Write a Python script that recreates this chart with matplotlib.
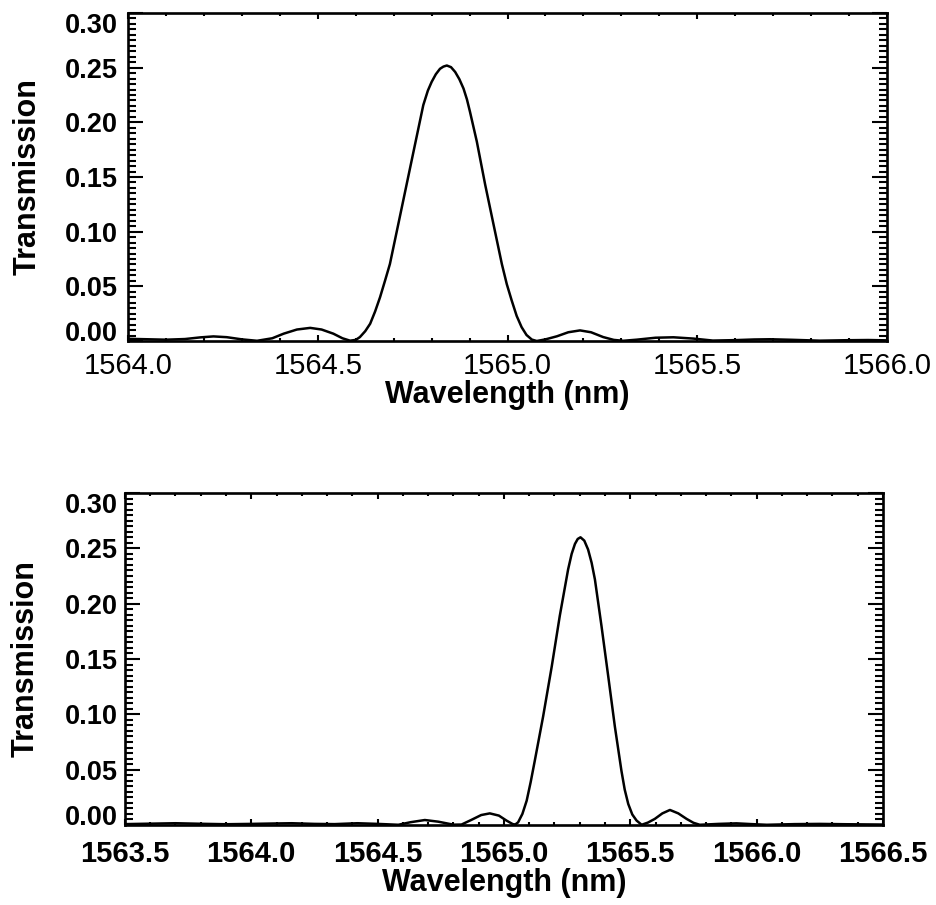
# Imports
import matplotlib
matplotlib.use('Agg')
import matplotlib.pyplot as plt
from matplotlib.ticker import MultipleLocator, FormatStrFormatter

plt.rcParams['font.family'] = ['Liberation Sans', 'DejaVu Sans']

# Top panel: wavelength (nm) / transmission
wl_top = [1564.00, 1564.05, 1564.10, 1564.15, 1564.19, 1564.225, 1564.26,
          1564.30, 1564.34, 1564.38, 1564.41, 1564.445, 1564.48, 1564.51,
          1564.541, 1564.565, 1564.585, 1564.600, 1564.611, 1564.625,
          1564.638, 1564.651, 1564.664, 1564.677, 1564.690, 1564.712,
          1564.734, 1564.756, 1564.778, 1564.790, 1564.800, 1564.811,
          1564.822, 1564.831, 1564.840, 1564.851, 1564.862, 1564.873,
          1564.884, 1564.893, 1564.901, 1564.919, 1564.941, 1564.963,
          1564.985, 1564.998, 1565.011, 1565.024, 1565.037, 1565.050,
          1565.064, 1565.077, 1565.10, 1565.130, 1565.16, 1565.191, 1565.22,
          1565.252, 1565.28, 1565.305, 1565.34, 1565.39, 1565.437, 1565.49,
          1565.541, 1565.60, 1565.65, 1565.692, 1565.75, 1565.823, 1565.89,
          1565.95, 1566.00]
tr_top = [0.0020, 0.0016, 0.0012, 0.0018, 0.0033, 0.0042, 0.0035,
          0.0015, 0.0002, 0.0025, 0.0067, 0.0105, 0.0120, 0.0105,
          0.0067, 0.0025, 0.0003, 0.0010, 0.0036, 0.0090,
          0.0158, 0.0270, 0.0400, 0.0550, 0.0704, 0.1067,
          0.1431, 0.1795, 0.2158, 0.2290, 0.2370, 0.2440,
          0.2490, 0.2510, 0.2520, 0.2505, 0.2461, 0.2395,
          0.2309, 0.2210, 0.2097, 0.1825, 0.1431, 0.1067,
          0.0704, 0.0520, 0.0370, 0.0230, 0.0127, 0.0055,
          0.0013, 0.0000, 0.0015, 0.0043, 0.0080, 0.0097, 0.0080,
          0.0036, 0.0010, 0.0002, 0.0012, 0.0030, 0.0034, 0.0022,
          0.0004, 0.0008, 0.0014, 0.0016, 0.0011, 0.0003, 0.0007,
          0.0009, 0.0006]

# Bottom panel
wl_bot = [1563.50, 1563.60, 1563.70, 1563.80, 1563.90, 1564.00, 1564.10,
          1564.16, 1564.25, 1564.33, 1564.42, 1564.50, 1564.582, 1564.63,
          1564.687, 1564.74, 1564.80, 1564.832, 1564.87, 1564.91, 1564.944,
          1564.98, 1565.01, 1565.035, 1565.045, 1565.056, 1565.073,
          1565.090, 1565.106, 1565.122, 1565.155, 1565.189, 1565.221,
          1565.254, 1565.268, 1565.281, 1565.292, 1565.303, 1565.318,
          1565.333, 1565.347, 1565.360, 1565.386, 1565.413, 1565.439,
          1565.465, 1565.478, 1565.492, 1565.508, 1565.525, 1565.545,
          1565.570, 1565.597, 1565.627, 1565.657, 1565.690, 1565.723,
          1565.750, 1565.775, 1565.85, 1565.920, 1565.98, 1566.04, 1566.15,
          1566.25, 1566.35, 1566.45, 1566.50]
tr_bot = [0.0008, 0.0012, 0.0016, 0.0011, 0.0007, 0.0010, 0.0014,
          0.0016, 0.0010, 0.0008, 0.0016, 0.0010, 0.0002, 0.0025,
          0.0045, 0.0030, 0.0003, 0.0004, 0.0045, 0.0090, 0.0105,
          0.0085, 0.0040, 0.0008, 0.0005, 0.0024, 0.0100,
          0.0220, 0.0390, 0.0580, 0.0980, 0.1430, 0.1890,
          0.2310, 0.2450, 0.2540, 0.2585, 0.2600, 0.2570,
          0.2490, 0.2370, 0.2220, 0.1800, 0.1340, 0.0890,
          0.0490, 0.0320, 0.0190, 0.0095, 0.0040, 0.0002,
          0.0022, 0.0055, 0.0105, 0.0136, 0.0105, 0.0055,
          0.0020, 0.0002, 0.0010, 0.0015, 0.0008, 0.0002, 0.0008,
          0.0010, 0.0007, 0.0005, 0.0004]

xlim_top = (1564.0, 1566.0)
xlim_bot = (1563.5, 1566.5)


def style_axes(ax, xlim, bold_x, xpad, ypad):
    ax.set_xlim(*xlim)
    ax.set_ylim(0.0, 0.30)
    ax.xaxis.set_major_locator(MultipleLocator(0.5))
    ax.xaxis.set_minor_locator(MultipleLocator(0.1))
    ax.yaxis.set_major_locator(MultipleLocator(0.05))
    ax.yaxis.set_minor_locator(MultipleLocator(0.005))
    ax.xaxis.set_major_formatter(FormatStrFormatter('%.1f'))
    ax.yaxis.set_major_formatter(FormatStrFormatter('%.2f'))
    for s in ax.spines.values():
        s.set_linewidth(1.9)
    ax.tick_params(axis='both', which='both', direction='in',
                   top=True, right=True, width=1.5, colors='black')
    ax.tick_params(axis='y', which='major', length=10.5, pad=ypad)
    ax.tick_params(axis='y', which='minor', length=5.5)
    ax.tick_params(axis='x', which='major', length=4.5, pad=xpad)
    ax.tick_params(axis='x', which='minor', length=2.5)
    for lab in ax.get_yticklabels():
        lab.set_fontsize(19.5)
        lab.set_fontweight('bold')
        # end labels sit inside the axis range, as in the original
        if lab.get_text() == '0.00':
            lab.set_va('baseline')
        elif lab.get_text() == '0.30':
            lab.set_va('top')
    for lab in ax.get_xticklabels():
        lab.set_fontsize(21)
        lab.set_fontweight('bold' if bold_x else 'normal')
    ax.set_ylabel('Transmission', fontsize=22, fontweight='bold')
    ax.set_xlabel('Wavelength (nm)', fontsize=22, fontweight='bold')


fig = plt.figure(figsize=(9.36, 9.05), dpi=100)

# Top graph
ax1 = fig.add_axes([0.1368, 0.6232, 0.8109, 0.3624])
ax1.plot(wl_top, tr_top, color='black', linewidth=1.8)
style_axes(ax1, xlim_top, False, 8, 7)
ax1.yaxis.set_label_coords(-0.112, 0.5)
ax1.xaxis.set_label_coords(0.5, -0.12)

# Bottom graph
ax2 = fig.add_axes([0.1335, 0.0884, 0.8098, 0.3668])
ax2.plot(wl_bot, tr_bot, color='black', linewidth=1.8)
style_axes(ax2, xlim_bot, True, 11, 5)
ax2.yaxis.set_label_coords(-0.111, 0.5)
ax2.xaxis.set_label_coords(0.5, -0.13)

fig.savefig('out.png', dpi=100)
